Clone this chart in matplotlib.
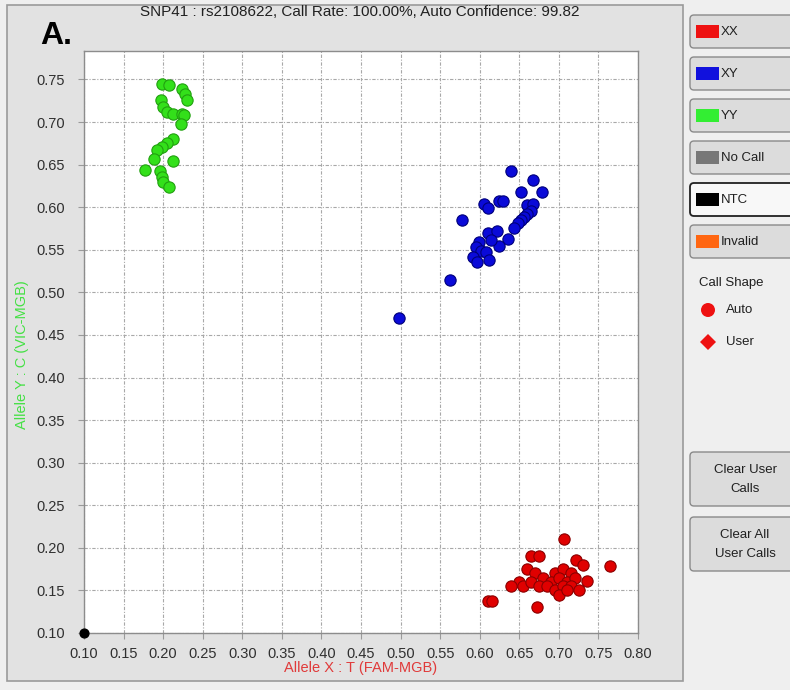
import matplotlib
matplotlib.use("Agg")
import matplotlib.pyplot as plt
from matplotlib.patches import Rectangle, FancyBboxPatch, Circle, Polygon

plt.rcParams['font.family'] = ['Liberation Sans', 'DejaVu Sans']

# ---------------- data ----------------
yy_x = [0.198, 0.208, 0.224, 0.227, 0.230, 0.197, 0.200, 0.205, 0.212, 0.224, 0.226, 0.222,
        0.212, 0.205, 0.198, 0.192, 0.189, 0.213, 0.177, 0.196, 0.198, 0.200, 0.207]
yy_y = [0.745, 0.744, 0.739, 0.733, 0.726, 0.726, 0.718, 0.712, 0.710, 0.710, 0.708, 0.698,
        0.680, 0.675, 0.671, 0.667, 0.657, 0.654, 0.644, 0.643, 0.636, 0.629, 0.624]

xy_x = [0.639, 0.667, 0.679, 0.652, 0.605, 0.610, 0.624, 0.629, 0.660, 0.667, 0.665, 0.660,
        0.656, 0.652, 0.648, 0.643, 0.578, 0.610, 0.622, 0.636, 0.624, 0.614, 0.599, 0.595,
        0.601, 0.608, 0.591, 0.597, 0.612, 0.562, 0.498]
xy_y = [0.643, 0.632, 0.618, 0.618, 0.604, 0.599, 0.607, 0.607, 0.602, 0.604, 0.596, 0.592,
        0.588, 0.585, 0.581, 0.576, 0.585, 0.570, 0.572, 0.563, 0.555, 0.561, 0.559, 0.553,
        0.549, 0.547, 0.542, 0.536, 0.538, 0.514, 0.470]

xx_x = [0.706, 0.665, 0.675, 0.722, 0.730, 0.765, 0.660, 0.670, 0.695, 0.705, 0.715,
        0.650, 0.680, 0.690, 0.700, 0.710, 0.720, 0.736, 0.640, 0.655, 0.665, 0.675,
        0.685, 0.695, 0.705, 0.715, 0.725, 0.700, 0.710, 0.610, 0.616, 0.673]
xx_y = [0.210, 0.190, 0.190, 0.186, 0.180, 0.179, 0.175, 0.170, 0.170, 0.175, 0.170,
        0.160, 0.165, 0.160, 0.165, 0.160, 0.165, 0.161, 0.155, 0.155, 0.160, 0.155,
        0.155, 0.150, 0.155, 0.155, 0.150, 0.145, 0.150, 0.138, 0.138, 0.130]

ntc_x = [0.10]
ntc_y = [0.10]

x_ticks = [0.10, 0.15, 0.20, 0.25, 0.30, 0.35, 0.40, 0.45, 0.50, 0.55, 0.60, 0.65, 0.70, 0.75, 0.80]
y_ticks = [0.10, 0.15, 0.20, 0.25, 0.30, 0.35, 0.40, 0.45, 0.50, 0.55, 0.60, 0.65, 0.70, 0.75]

legend_labels = ["XX", "XY", "YY", "No Call", "NTC", "Invalid"]
legend_colors = ["#ee1111", "#1111dd", "#33ee33", "#777777", "#000000", "#ff6611"]

title = "SNP41 : rs2108622, Call Rate: 100.00%, Auto Confidence: 99.82"

# ---------------- figure ----------------
W, H = 790, 690
fig = plt.figure(figsize=(W / 100, H / 100), dpi=100)
fig.patch.set_facecolor("#efefef")

bg = fig.add_axes([0, 0, 1, 1], zorder=-5)
bg.set_xlim(0, W)
bg.set_ylim(H, 0)
bg.axis("off")

# left grey panel
bg.add_patch(Rectangle((7, 5), 676, 676, fc="#e2e2e2", ec="#9a9a9a", lw=1.2))

# legend buttons
btn_tops = [15, 57, 99, 141, 183, 225]
for lab, col, top in zip(legend_labels, legend_colors, btn_tops):
    if lab == "NTC":
        fc, ec, lw = "#f8f8f8", "#202020", 1.3
    else:
        fc, ec, lw = "#dcdcdc", "#8a8a8a", 1.0
    bg.add_patch(FancyBboxPatch((690, top), 110, 33,
                                boxstyle="round,pad=0,rounding_size=4",
                                fc=fc, ec=ec, lw=lw))
    bg.add_patch(Rectangle((696, top + 10), 23, 13, fc=col, ec="none"))
    bg.text(721, top + 17, lab, fontsize=9.5, color="#202020",
            va="center", ha="left")

bg.text(699, 283, "Call Shape", fontsize=9.5, color="#202020", va="center", ha="left")
bg.add_patch(Circle((708, 310), 7, fc="#ee1111", ec="none"))
bg.text(726, 310, "Auto", fontsize=9.5, color="#202020", va="center", ha="left")
bg.add_patch(Polygon([(708, 334), (716, 342), (708, 350), (700, 342)],
                     closed=True, fc="#ee1111", ec="none"))
bg.text(726, 342, "User", fontsize=9.5, color="#202020", va="center", ha="left")

for top, l1, l2 in [(452, "Clear User", "Calls"), (517, "Clear All", "User Calls")]:
    bg.add_patch(FancyBboxPatch((690, top), 110, 54,
                                boxstyle="round,pad=0,rounding_size=4",
                                fc="#dcdcdc", ec="#8a8a8a", lw=1.0))
    bg.text(745, top + 18, l1, fontsize=9.5, color="#202020", va="center", ha="center")
    bg.text(745, top + 37, l2, fontsize=9.5, color="#202020", va="center", ha="center")

# titles
fig.text(360 / W, 1 - 12 / H, title, fontsize=11, color="#202020", ha="center", va="center")
fig.text(40 / W, 1 - 36 / H, "A.", fontsize=23, fontweight="bold", color="#000000",
         ha="left", va="center")

# ---------------- main axes ----------------
ax = fig.add_axes([84 / W, 1 - 633 / H, (638 - 84) / W, (633 - 50.5) / H])
ax.set_facecolor("white")
ax.set_xlim(0.10, 0.80)
ax.set_ylim(0.10, 0.784)

ax.set_xticks(x_ticks)
ax.set_yticks(y_ticks)
ax.set_xticklabels([f"{v:.2f}" for v in x_ticks])
ax.set_yticklabels([f"{v:.2f}" for v in y_ticks])
ax.tick_params(axis="both", direction="out", length=4, color="#9a9a9a",
               labelsize=10.5, labelcolor="#303030")
ax.tick_params(axis="x", pad=6)
ax.tick_params(axis="y", pad=10)
ax.grid(True, color="#a8a8a8", linestyle=(0, (3, 1.5, 1, 1.5)), linewidth=0.8)
ax.set_axisbelow(True)
for s in ax.spines.values():
    s.set_color("#8c8c8c")
    s.set_linewidth(1.0)

ms = 66
ax.scatter(yy_x, yy_y, s=ms, c="#33e01a", edgecolors="#22a010", linewidths=0.8, zorder=3)
ax.scatter(xy_x, xy_y, s=ms, c="#0a0ad8", edgecolors="#00007a", linewidths=0.8, zorder=3)
ax.scatter(xx_x, xx_y, s=ms, c="#e00000", edgecolors="#8a0000", linewidths=0.8, zorder=3)
ax.scatter(ntc_x, ntc_y, s=40, c="#000000", edgecolors="#000000", zorder=4, clip_on=False)

ax.set_xlabel("Allele X : T (FAM-MGB)", fontsize=10.5, color="#e03a3a")
ax.set_ylabel("Allele Y : C (VIC-MGB)", fontsize=10.5, color="#44e044")
ax.xaxis.set_label_coords(0.5, -(668 - 633) / 582.5)
ax.xaxis.label.set_va("center")
ax.yaxis.set_label_coords((22 - 84) / 554, (633 - 355) / 582.5)
ax.yaxis.label.set_va("center")

fig.savefig("out.png", dpi=100, facecolor=fig.get_facecolor())
